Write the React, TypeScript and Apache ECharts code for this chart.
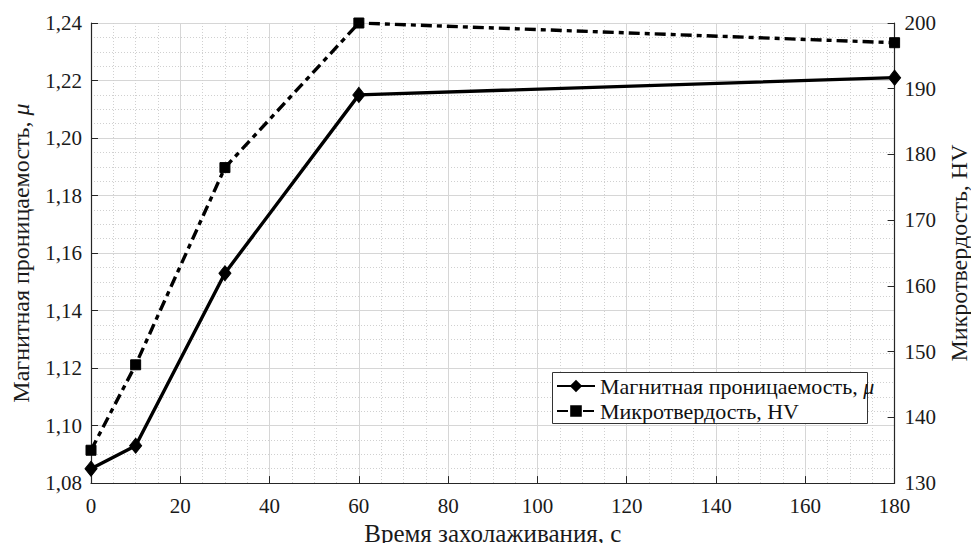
import React, { useEffect, useRef } from "react";
import * as echarts from "echarts";

const times = [0, 10, 30, 60, 180];
const permeability = [1.085, 1.093, 1.153, 1.215, 1.221];
const hardness = [135, 148, 178, 200, 197];

const FONT = "Liberation Serif, Times New Roman, serif";

export default function App() {
  const ref = useRef<HTMLDivElement>(null);
  useEffect(() => {
    if (!ref.current) return;
    const chart = echarts.init(ref.current, undefined, { renderer: "svg" });
    const axisLine = { lineStyle: { color: "#262626", width: 1.2 } };
    const label = { color: "#1a1a1a", fontFamily: FONT, fontSize: 21 };
    const titleStyle = { color: "#1a1a1a", fontFamily: FONT, fontSize: 24 };
    chart.setOption({
      animation: false,
      backgroundColor: "#ffffff",
      textStyle: { fontFamily: FONT },
      grid: { left: 91, right: 77, top: 23, bottom: 64, containLabel: false },
      graphic: [
        {
          type: "rect",
          left: 552,
          top: 372,
          z: 50,
          shape: { width: 315, height: 51 },
          style: { fill: "#ffffff", stroke: "#333333", lineWidth: 1 },
        },
      ],
      legend: {
        orient: "vertical",
        left: 552,
        top: 373,
        z: 60,
        itemWidth: 38,
        itemHeight: 12,
        itemGap: 3,
        padding: [2, 5, 2, 4],
        backgroundColor: "transparent",
        borderWidth: 0,
        textStyle: {
          fontFamily: FONT,
          fontSize: 22,
          color: "#111",
          rich: {
            n: { fontFamily: FONT, fontSize: 22, color: "#111" },
            i: { fontFamily: FONT, fontSize: 22, fontStyle: "italic", color: "#111" },
          },
        },
        formatter: (name: string) =>
          name.endsWith("μ")
            ? `{n|${name.slice(0, -1)}}{i|μ}`
            : `{n|${name}}`,
        data: ["Магнитная проницаемость, μ", "Микротвердость, HV"],
      },
      xAxis: {
        type: "value",
        min: 0,
        max: 180,
        interval: 20,
        name: "Время захолаживания, с",
        nameLocation: "middle",
        nameGap: 37,
        nameTextStyle: { ...titleStyle, fontSize: 25 },
        axisLine: { ...axisLine, onZero: false },
        axisTick: { show: true, inside: true, length: 7, lineStyle: { color: "#262626" } },
        axisLabel: { ...label, margin: 12 },
        splitLine: { show: true, lineStyle: { color: "#d6d6d6", width: 1 } },
        minorTick: { show: false, splitNumber: 4 },
        minorSplitLine: { show: true, lineStyle: { color: "#d0d0d0", width: 1, type: [1, 2] } },
      },
      yAxis: [
        {
          type: "value",
          min: 1.08,
          max: 1.24,
          interval: 0.02,
          position: "left",
          name: "{n|Магнитная проницаемость, }{i|μ}",
          nameLocation: "middle",
          nameRotate: 90,
          nameGap: 58,
          nameTextStyle: {
            ...titleStyle,
            rich: {
              n: { ...titleStyle },
              i: { ...titleStyle, fontStyle: "italic" },
            },
          },
          axisLine: { show: true, ...axisLine },
          axisTick: { show: true, inside: true, length: 7, lineStyle: { color: "#262626" } },
          axisLabel: {
            ...label,
            margin: 9,
            formatter: (v: number) => v.toFixed(2).replace(".", ","),
          },
          splitLine: { show: true, lineStyle: { color: "#d6d6d6", width: 1 } },
          minorTick: { show: false, splitNumber: 4 },
          minorSplitLine: { show: true, lineStyle: { color: "#d0d0d0", width: 1, type: [1, 2] } },
        },
        {
          type: "value",
          min: 130,
          max: 200,
          interval: 10,
          position: "right",
          name: "Микротвердость, HV",
          nameLocation: "middle",
          nameRotate: 90,
          nameGap: 50,
          nameTextStyle: titleStyle,
          axisLine: { show: true, ...axisLine },
          axisTick: { show: true, inside: true, length: 7, lineStyle: { color: "#262626" } },
          axisLabel: { ...label, margin: 10 },
          splitLine: { show: false },
        },
      ],
      series: [
        {
          name: "Магнитная проницаемость, μ",
          type: "line",
          yAxisIndex: 0,
          data: times.map((t, i) => [t, permeability[i]]),
          symbol: "diamond",
          symbolSize: [12, 15],
          lineStyle: { color: "#000", width: 3.4 },
          itemStyle: { color: "#000", borderColor: "#000", borderWidth: 1 },
          z: 3,
        },
        {
          name: "Микротвердость, HV",
          type: "line",
          yAxisIndex: 1,
          data: times.map((t, i) => [t, hardness[i]]),
          symbol: "rect",
          symbolSize: 10,
          lineStyle: { color: "#000", width: 3.4, type: [11, 5, 5, 5] },
          itemStyle: { color: "#000", borderColor: "#000", borderWidth: 1 },
          z: 3,
        },
      ],
    });
    return () => chart.dispose();
  }, []);
  return <div ref={ref} style={{ width: 979, height: 551, margin: -8 }} />;
}
